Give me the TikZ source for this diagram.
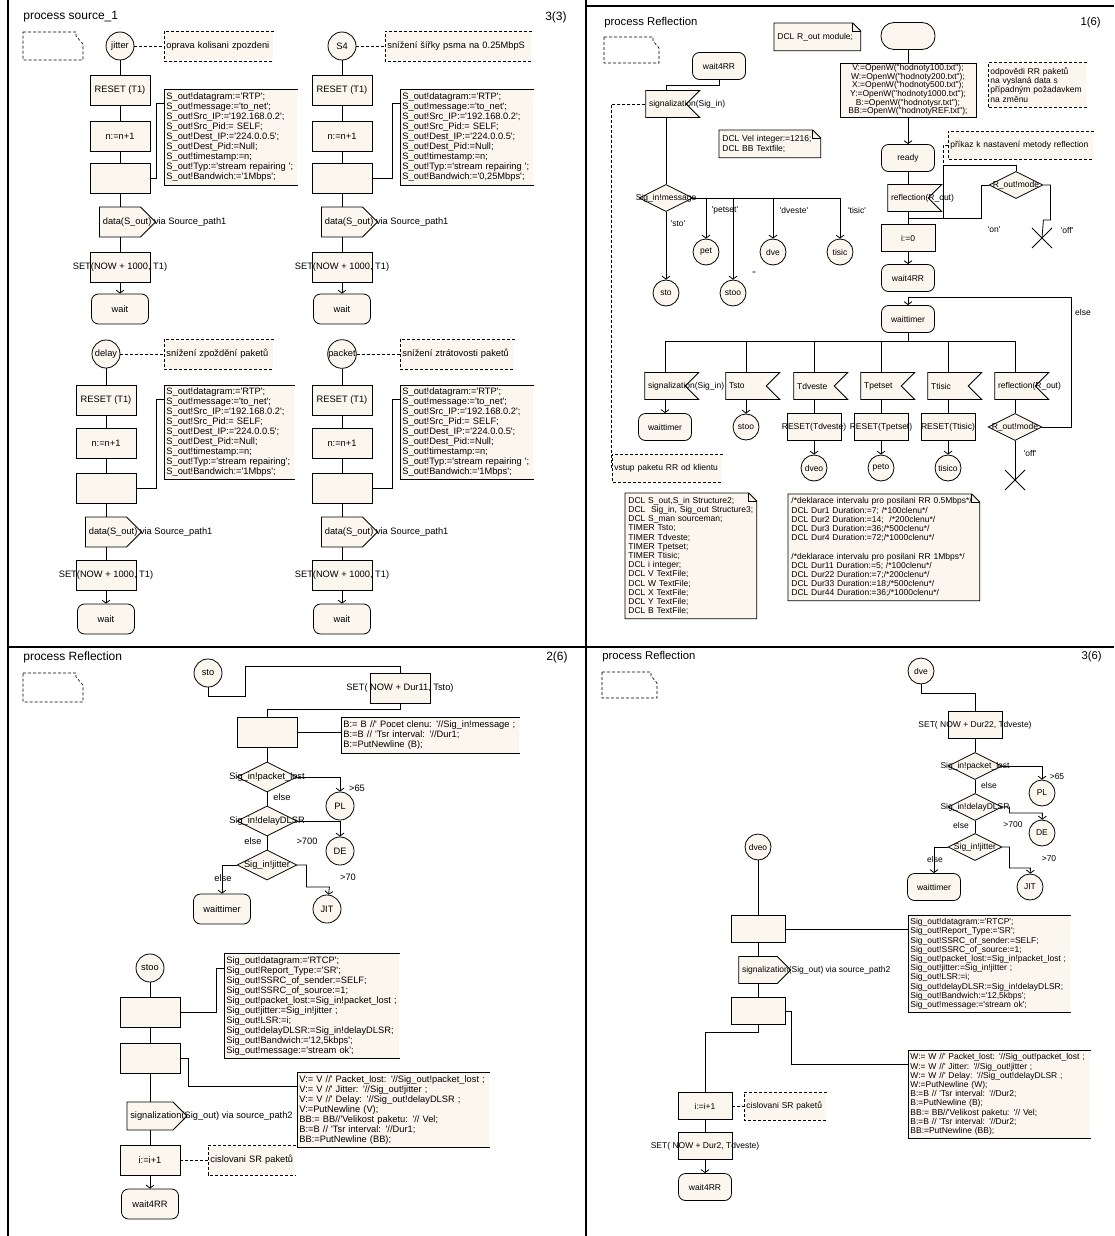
\documentclass[tikz,border=0pt]{standalone}
\usepackage{fontspec}
\newfontfamily\sdlfont{Liberation Sans}
\usetikzlibrary{shapes.geometric,shapes.symbols,arrows.meta}
\definecolor{boxfill}{RGB}{251,246,238}

\begin{document}
\begin{tikzpicture}[
    x=1pt, y=-1pt,
    font=\sdlfont\fontsize{9.3}{10}\selectfont,
    line width=0.8pt,
    symbol/.style={draw, fill=boxfill, inner sep=0pt},
    task/.style={symbol, rectangle, minimum width=60pt, minimum height=30pt},
    state/.style={symbol, rectangle, rounded corners=7pt, minimum width=57pt, minimum height=30pt},
    startsym/.style={symbol, rectangle, rounded corners=13pt, minimum width=54pt, minimum height=27pt},
    conn/.style={symbol, circle, minimum size=28pt},
    decision/.style={symbol, diamond, minimum width=60pt, minimum height=30pt},
    outsig/.style={symbol, signal, signal to=east, minimum width=56pt, minimum height=30pt},
    insig/.style={symbol, signal, signal to=nowhere, signal from=east, minimum width=54pt, minimum height=27pt},
    code/.style={fill=boxfill, anchor=north west, align=left, inner xsep=2pt, inner ysep=0pt},
    cmt/.style={fill=boxfill, anchor=west, align=left, inner xsep=2pt, minimum height=29pt},
    note/.style={fill=boxfill, anchor=north west, align=left, inner xsep=3pt},
    lbl/.style={inner sep=1pt},
    title/.style={inner sep=0pt, font=\sdlfont\fontsize{12}{14}\selectfont},
    flow/.style={-{Straight Barb[length=3pt,width=8pt]}},
    cline/.style={line width=0.6pt, dash pattern=on 3pt off 2pt},
    page/.style={line width=0.6pt, dash pattern=on 3pt off 2pt},
    frame/.style={line width=2pt},
    small/.style={
        font=\sdlfont\fontsize{8.5}{9.2}\selectfont,
        title/.append style={font=\sdlfont\fontsize{11.3}{13}\selectfont},
        task/.append style={minimum width=54pt, minimum height=27pt},
        state/.append style={minimum width=53pt, minimum height=27pt},
        conn/.append style={minimum size=26pt},
        decision/.append style={minimum width=54pt, minimum height=27pt},
        outsig/.append style={minimum width=52pt, minimum height=27pt},
        cmt/.append style={minimum height=27pt}}
]
\useasboundingbox (0,0) rectangle (1114,1236);

% panel frames
\draw[frame] (8,0) -- (8,1236);
\draw[frame] (586,0) -- (586,1236);
\draw[frame] (8,647) -- (1114,647);
\draw[frame] (586,6) -- (1114,6);

% ---------------- process source_1, page 3(3)
\node[title, anchor=west] (ttl1) at (23,17) {process source\_1};
\node[title, anchor=east] (pg1) at (567,17) {3(3)};
\draw[page] (23,32) -- ++(53,0) -- ++(0,4) -- ++(7,8) -- ++(0,16) -- ++(-60,0) -- cycle;

% jitter
\node[conn] (jitter) at (120,46) {jitter};
\node[cmt, text width=105pt] (cjit) at (164,46) {oprava kolisani zpozdeni};
\node[task] (rstA) at (120,90) {RESET (T1)};
\node[task] (incA) at (120,136) {n:=n+1};
\node[task] (tskA) at (120,178) {};
\node[code, text width=129pt, minimum height=96pt] (codeA) at (164,89) {S\_out!datagram:='RTP';\\S\_out!message:='to\_net';\\S\_out!Src\_IP:='192.168.0.2';\\S\_out!Src\_Pid:= SELF;\\S\_out!Dest\_IP:='224.0.0.5';\\S\_out!Dest\_Pid:=Null;\\S\_out!timestamp:=n;\\S\_out!Typ:='stream repairing ';\\S\_out!Bandwich:='1Mbps';};
\node[outsig, label={[anchor=west]west:{data(S\_out) via Source\_path1}}] (outA) at (120,222) {};
\node[task] (setA) at (120,267) {\makebox[0pt]{SET(NOW + 1000, T1)}};
\node[state] (waitA) at (120,309) {wait};

\draw[cline] (jitter) -- (cjit);
\draw[cline] (cjit.north east) -- (cjit.north west) -- (cjit.south west) -- (cjit.south east);
\draw (jitter) -- (rstA) -- (incA) -- (tskA) -- (outA) -- (setA);
\draw[flow] (setA) -- (waitA);
\draw (tskA.east) -- ++(6,0) |- ([yshift=-14pt]codeA.north west);
\draw (codeA.north east) -- (codeA.north west) -- (codeA.south west) -- (codeA.south east);

% S4
\node[conn] (s4) at (342,46) {S4};
\node[cmt, text width=142pt] (cs4) at (385,46) {snížení šířky psma na 0.25MbpS};
\node[task] (rstB) at (342,90) {RESET (T1)};
\node[task] (incB) at (342,136) {n:=n+1};
\node[task] (tskB) at (342,178) {};
\node[code, text width=129pt, minimum height=96pt] (codeB) at (400,89) {S\_out!datagram:='RTP';\\S\_out!message:='to\_net';\\S\_out!Src\_IP:='192.168.0.2';\\S\_out!Src\_Pid:= SELF;\\S\_out!Dest\_IP:='224.0.0.5';\\S\_out!Dest\_Pid:=Null;\\S\_out!timestamp:=n;\\S\_out!Typ:='stream repairing ';\\S\_out!Bandwich:='0,25Mbps';};
\node[outsig, label={[anchor=west]west:{data(S\_out) via Source\_path1}}] (outB) at (342,222) {};
\node[task] (setB) at (342,267) {\makebox[0pt]{SET(NOW + 1000, T1)}};
\node[state] (waitB) at (342,309) {wait};

\draw[cline] (s4) -- (cs4);
\draw[cline] (cs4.north east) -- (cs4.north west) -- (cs4.south west) -- (cs4.south east);
\draw (s4) -- (rstB) -- (incB) -- (tskB) -- (outB) -- (setB);
\draw[flow] (setB) -- (waitB);
\draw (tskB.east) -- ++(20,0) |- ([yshift=-14pt]codeB.north west);
\draw (codeB.north east) -- (codeB.north west) -- (codeB.south west) -- (codeB.south east);

% delay
\node[conn] (delay) at (106,354) {delay};
\node[cmt, text width=105pt] (cdel) at (164,354) {snížení zpoždění paketů};
\node[task] (rstC) at (106,400) {RESET (T1)};
\node[task] (incC) at (106,443) {n:=n+1};
\node[task] (tskC) at (106,488) {};
\node[code, text width=126pt, minimum height=94pt] (codeC) at (164,385) {S\_out!datagram:='RTP';\\S\_out!message:='to\_net';\\S\_out!Src\_IP:='192.168.0.2';\\S\_out!Src\_Pid:= SELF;\\S\_out!Dest\_IP:='224.0.0.5';\\S\_out!Dest\_Pid:=Null;\\S\_out!timestamp:=n;\\S\_out!Typ:='stream repairing';\\S\_out!Bandwich:='1Mbps';};
\node[outsig, label={[anchor=west]west:{data(S\_out) via Source\_path1}}] (outC) at (106,532) {};
\node[task] (setC) at (106,575) {\makebox[0pt]{SET(NOW + 1000, T1)}};
\node[state] (waitC) at (106,619) {wait};

\draw[cline] (delay) -- (cdel);
\draw[cline] (cdel.north east) -- (cdel.north west) -- (cdel.south west) -- (cdel.south east);
\draw (delay) -- (rstC) -- (incC) -- (tskC) -- (outC) -- (setC);
\draw[flow] (setC) -- (waitC);
\draw (tskC.east) -- ++(20,0) |- ([yshift=-14pt]codeC.north west);
\draw (codeC.north east) -- (codeC.north west) -- (codeC.south west) -- (codeC.south east);

% packet
\node[conn] (packet) at (342,354) {packet};
\node[cmt, text width=110pt] (cpkt) at (400,354) {snížení ztrátovosti paketů};
\node[task] (rstD) at (342,400) {RESET (T1)};
\node[task] (incD) at (342,443) {n:=n+1};
\node[task] (tskD) at (342,488) {};
\node[code, text width=129pt, minimum height=94pt] (codeD) at (400,385) {S\_out!datagram:='RTP';\\S\_out!message:='to\_net';\\S\_out!Src\_IP:='192.168.0.2';\\S\_out!Src\_Pid:= SELF;\\S\_out!Dest\_IP:='224.0.0.5';\\S\_out!Dest\_Pid:=Null;\\S\_out!timestamp:=n;\\S\_out!Typ:='stream repairing ';\\S\_out!Bandwich:='1Mbps';};
\node[outsig, label={[anchor=west]west:{data(S\_out) via Source\_path1}}] (outD) at (342,532) {};
\node[task] (setD) at (342,575) {\makebox[0pt]{SET(NOW + 1000, T1)}};
\node[state] (waitD) at (342,619) {wait};

\draw[cline] (packet) -- (cpkt);
\draw[cline] (cpkt.north east) -- (cpkt.north west) -- (cpkt.south west) -- (cpkt.south east);
\draw (packet) -- (rstD) -- (incD) -- (tskD) -- (outD) -- (setD);
\draw[flow] (setD) -- (waitD);
\draw (tskD.east) -- ++(20,0) |- ([yshift=-14pt]codeD.north west);
\draw (codeD.north east) -- (codeD.north west) -- (codeD.south west) -- (codeD.south east);

% ---------------- process Reflection, page 1(6)
\begin{scope}[small]
\node[title, anchor=west] (ttl2) at (604,23) {process Reflection};
\node[title, anchor=east] (pg2) at (1101,23) {1(6)};
\draw[page] (604,37) -- ++(49,0) -- ++(0,4) -- ++(6,7) -- ++(0,15) -- ++(-55,0) -- cycle;

% state wait4RR
\node[state] (w4rrA) at (719,66) {wait4RR};
\node[insig, label={[anchor=west]west:{signalization(Sig\_in)}}] (sigin) at (666,104) {};
\node[decision] (dmsg) at (666,198) {\makebox[0pt]{Sig\_in!message}};
\node[conn] (sto) at (666,293) {sto};
\node[conn] (pet) at (706,252) {pet};
\node[conn] (stoo) at (733,293) {stoo};
\node[conn] (dve) at (773,252) {dve};
\node[conn] (tisic) at (840,252) {tisic};
\node[lbl] (lsto) at (678,224) {'sto'};
\node[lbl] (lpet) at (725,210) {'petset'};
\node[lbl] (lstoo) at (754,275) {''};
\node[lbl] (ldve) at (794,210) {'dveste'};
\node[lbl] (ltis) at (857,210) {'tisic'};
\node[cmt, text width=106pt] (cin) at (612,468) {vstup paketu RR od klientu};

\draw (w4rrA.south) -- ++(0,6) -| (sigin.north);
\draw (sigin) -- (dmsg);
\draw[flow] (dmsg) -- (sto);
\draw[flow] (dmsg.east) -| (pet);
\draw[flow] (dmsg.east) -| (stoo);
\draw[flow] (dmsg.east) -| (dve);
\draw[flow] (dmsg.east) -| (tisic);
\draw[cline] (sigin.west) -- ++(-34,0) |- (cin.west);
\draw[cline] (cin.north east) -- (cin.north west) -- (cin.south west) -- (cin.south east);

% declarations
\node[note, text width=80pt, minimum height=27pt] (dclrout) at (774,23) {DCL R\_out module;};
\node[note, text width=95pt, minimum height=27pt] (dclvel) at (719,130) {DCL Vel integer:=1216;\\DCL BB Textfile;};
\draw (dclrout.north west) -- ([xshift=-8pt]dclrout.north east) -- ([yshift=-8pt]dclrout.north east) -- (dclrout.south east) -- (dclrout.south west) -- cycle;
\draw ([xshift=-8pt]dclrout.north east) |- ([yshift=-8pt]dclrout.north east);
\draw (dclvel.north west) -- ([xshift=-8pt]dclvel.north east) -- ([yshift=-8pt]dclvel.north east) -- (dclvel.south east) -- (dclvel.south west) -- cycle;
\draw ([xshift=-8pt]dclvel.north east) |- ([yshift=-8pt]dclvel.north east);

% start transition
\node[startsym] (strt) at (908,36) {};
\node[task, minimum width=136pt, minimum height=54pt, align=center, font=\sdlfont\fontsize{8.5}{8.7}\selectfont] (opn) at (908,90) {V:=OpenW("hodnoty100.txt");\\W:=OpenW("hodnoty200.txt");\\X:=OpenW("hodnoty500.txt");\\Y:=OpenW("hodnoty1000.txt");\\B:=OpenW("hodnotysr.txt");\\BB:=OpenW("hodnotyREF.txt");};
\node[cmt, text width=94pt, minimum height=44pt] (codp) at (988,85) {odpovědi RR paketů\\na vyslaná data s\\případným požadavkem\\na změnu};
\node[state] (ready) at (908,158) {ready};
\node[cmt, text width=141pt] (crefl) at (948,145) {příkaz k nastavení metody reflection};
\node[insig, label={[anchor=west]west:{reflection(R\_out)}}] (refl) at (908,198) {};
\node[decision] (modeA) at (1016,185) {\makebox[0pt]{R\_out!mode}};
\coordinate (kn) at (943,165);
\coordinate (stopA) at (1042,238);
\node[task] (izero) at (908,238) {i:=0};
\node[state] (w4rrB) at (908,278) {wait4RR};
\node[lbl] (lon) at (994,230) {'on'};
\node[lbl] (loff) at (1067,230) {'off'};

\draw[cline] (codp.north east) -- (codp.north west) -- (codp.south west) -- (codp.south east);
\draw[cline] (crefl.north east) -- (crefl.north west) -- (crefl.south west) -- (crefl.south east);
\draw (strt) -- (opn);
\draw[flow] (opn) -- (ready);
\draw (ready) -- (refl);
\draw (refl.south) -- ++(0,6) -| (kn) -| (modeA.north);
\draw (modeA.west) -- ++(-7,0) |- ([yshift=-6pt]refl.south) -- (izero);
\draw (modeA.east) -- ++(7,0) |- ++(-7,35) -- (stopA);
\draw (stopA) ++(-10,-10) -- ++(20,20) (stopA) ++(-10,10) -- ++(20,-20);
\draw[cline] (crefl.west) -| (kn);
\draw[flow] (izero) -- (w4rrB);

% state waittimer
\node[state] (wt) at (908,319) {waittimer};
\node[insig, label={[anchor=west]west:{signalization(Sig\_in)}}] (sigin2) at (665,386) {};
\node[insig, label={[anchor=west]west:{Tsto}}] (tsto) at (746,386) {};
\node[insig, label={[anchor=west]west:{Tdveste}}] (tdve) at (814,386) {};
\node[insig, label={[anchor=west]west:{Tpetset}}] (tpet) at (881,386) {};
\node[insig, label={[anchor=west]west:{Ttisic}}] (ttis) at (948,386) {};
\node[insig, label={[anchor=west]west:{reflection(R\_out)}}] (refl2) at (1015,386) {};
\node[state] (wt2) at (665,427) {waittimer};
\node[conn] (stoo2) at (746,427) {stoo};
\node[task] (rsdve) at (814,427) {\makebox[0pt]{RESET(Tdveste)}};
\node[task] (rspet) at (881,427) {\makebox[0pt]{RESET(Tpetset)}};
\node[task] (rstis) at (948,427) {\makebox[0pt]{RESET(Ttisic)}};
\node[decision] (modeB) at (1015,427) {\makebox[0pt]{R\_out!mode}};
\node[conn] (dveo) at (814,468) {dveo};
\node[conn] (peto) at (881,468) {peto};
\node[conn] (tisico) at (948,468) {tisico};
\coordinate (stopB) at (1015,480);
\node[lbl] (loff2) at (1030,453) {'off'};
\node[lbl] (lelse) at (1083,312) {else};

\draw (wt.south) -- ++(0,8) -| (sigin2.north);
\draw (wt.south) -- ++(0,8) -| (tsto.north);
\draw (wt.south) -- ++(0,8) -| (tdve.north);
\draw (wt.south) -- ++(0,8) -| (tpet.north);
\draw (wt.south) -- ++(0,8) -| (ttis.north);
\draw (wt.south) -- ++(0,8) -| (refl2.north);
\draw[flow] (sigin2) -- (wt2);
\draw[flow] (tsto) -- (stoo2);
\draw (tdve) -- (rsdve);
\draw (tpet) -- (rspet);
\draw (ttis) -- (rstis);
\draw (refl2) -- (modeB);
\draw[flow] (rsdve) -- (dveo);
\draw[flow] (rspet) -- (peto);
\draw[flow] (rstis) -- (tisico);
\draw (modeB) -- (stopB);
\draw (stopB) ++(-10,-10) -- ++(20,20) (stopB) ++(-10,10) -- ++(20,-20);
\draw[flow] (modeB.east) -- ++(29,0) |- ([yshift=8pt]wt.north) -- (wt);

% declarations
\node[note, text width=125pt, minimum height=125pt] (dcl1) at (625,493) {DCL S\_out,S\_in Structure2;\\DCL\ \ Sig\_in, Sig\_out Structure3;\\DCL S\_man sourceman;\\TIMER Tsto;\\TIMER Tdveste;\\TIMER Tpetset;\\TIMER Ttisic;\\DCL i integer;\\DCL V TextFile;\\DCL W TextFile;\\DCL X TextFile;\\DCL Y TextFile;\\DCL B TextFile;};
\node[note, text width=185pt, minimum height=105pt] (dcl2) at (788,494) {/*deklarace intervalu pro posilani RR 0.5Mbps*/\\DCL Dur1 Duration:=7; /*100clenu*/\\DCL Dur2 Duration:=14;\ \ /*200clenu*/\\DCL Dur3 Duration:=36;/*500clenu*/\\DCL Dur4 Duration:=72;/*1000clenu*/\\[9.2pt]/*deklarace intervalu pro posilani RR 1Mbps*/\\DCL Dur11 Duration:=5; /*100clenu*/\\DCL Dur22 Duration:=7;/*200clenu*/\\DCL Dur33 Duration:=18;/*500clenu*/\\DCL Dur44 Duration:=36;/*1000clenu*/};
\draw (dcl1.north west) -- ([xshift=-8pt]dcl1.north east) -- ([yshift=-8pt]dcl1.north east) -- (dcl1.south east) -- (dcl1.south west) -- cycle;
\draw ([xshift=-8pt]dcl1.north east) |- ([yshift=-8pt]dcl1.north east);
\draw (dcl2.north west) -- ([xshift=-8pt]dcl2.north east) -- ([yshift=-8pt]dcl2.north east) -- (dcl2.south east) -- (dcl2.south west) -- cycle;
\draw ([xshift=-8pt]dcl2.north east) |- ([yshift=-8pt]dcl2.north east);
\end{scope}

% ---------------- process Reflection, page 2(6)
\node[title, anchor=west] (ttl3) at (23,657) {process Reflection};
\node[title, anchor=east] (pg3) at (568,657) {2(6)};
\draw[page] (23,673) -- ++(53,0) -- ++(0,4) -- ++(7,8) -- ++(0,17) -- ++(-60,0) -- cycle;

% connector sto
\node[conn] (sto2) at (208,673) {sto};
\node[task] (setS) at (400,688) {\makebox[0pt]{SET( NOW + Dur11, Tsto)}};
\node[task] (tkE) at (267,732) {};
\node[code, text width=174pt, minimum height=36pt] (codeE) at (341,717) {B:= B //' Pocet clenu: '//Sig\_in!message ;\\B:=B // 'Tsr interval: '//Dur1;\\B:=PutNewline (B);};
\node[decision] (dlost) at (267,777) {\makebox[0pt]{Sig\_in!packet\_lost}};
\node[conn] (pl) at (340,806) {PL};
\node[decision] (ddlsr) at (267,821) {\makebox[0pt]{Sig\_in!delayDLSR}};
\node[conn] (de) at (340,851) {DE};
\node[decision] (djit) at (267,865) {\makebox[0pt]{Sig\_in!jitter}};
\node[state] (wt3) at (222,909) {waittimer};
\node[conn] (jit) at (327,909) {JIT};
\node[lbl] (l65) at (357,788) {>65};
\node[lbl] (lels1) at (282,797) {else};
\node[lbl] (l700) at (307,841) {>700};
\node[lbl] (lels2) at (253,841) {else};
\node[lbl] (lels3) at (223,878) {else};
\node[lbl] (l70) at (348,877) {>70};

\draw (sto2.south) -- ++(0,9) -| ++(37,-30) -| (setS.north);
\draw (setS.south) -- ++(0,6) -| (tkE.north);
\draw (tkE.east) -- (tkE.east -| codeE.west);
\draw (codeE.north east) -- (codeE.north west) -- (codeE.south west) -- (codeE.south east);
\draw (tkE) -- (dlost) -- (ddlsr) -- (djit);
\draw[flow] (dlost.east) -| (pl);
\draw[flow] (ddlsr.east) -| (de);
\draw[flow] (djit.west) -| (wt3);
\draw[flow] (djit.east) -- ++(9,0) |- ++(23,22) -- (jit);

% connector stoo
\node[conn] (stoo3) at (150,968) {stoo};
\node[task] (tkF) at (150,1012) {};
\node[code, text width=171pt, minimum height=105pt] (codeF) at (224,953) {Sig\_out!datagram:='RTCP';\\Sig\_out!Report\_Type:='SR';\\Sig\_out!SSRC\_of\_sender:=SELF;\\Sig\_out!SSRC\_of\_source:=1;\\Sig\_out!packet\_lost:=Sig\_in!packet\_lost ;\\Sig\_out!jitter:=Sig\_in!jitter ;\\Sig\_out!LSR:=i;\\Sig\_out!delayDLSR:=Sig\_in!delayDLSR;\\Sig\_out!Bandwich:='12,5kbps';\\Sig\_out!message:='stream ok';};
\node[task] (tkG) at (150,1058) {};
\node[code, text width=188pt, minimum height=75pt] (codeG) at (297,1072) {V:= V //' Packet\_lost: '//Sig\_out!packet\_lost ;\\V:= V //' Jitter: '//Sig\_out!jitter ;\\V:= V //' Delay: '//Sig\_out!delayDLSR ;\\V:=PutNewline (V);\\BB:= BB//'Velikost paketu: '// Vel;\\B:=B // 'Tsr interval: '//Dur1;\\BB:=PutNewline (BB);};
\node[outsig, minimum width=60pt, minimum height=28pt, label={[anchor=west]west:{signalization(Sig\_out) via source\_path2}}] (outF) at (150,1116) {};
\node[task] (incF) at (150,1160) {i:=i+1};
\node[cmt, text width=83pt] (csr) at (208,1160) {cislovani SR paketů};
\node[state] (w4rrC) at (150,1204) {wait4RR};

\draw (stoo3) -- (tkF) -- (tkG) -- (outF) -- (incF);
\draw[flow] (incF) -- (w4rrC);
\draw (tkF.east) -- ++(36,0) |- ([yshift=-15pt]codeF.north west);
\draw (codeF.north east) -- (codeF.north west) -- (codeF.south west) -- (codeF.south east);
\draw (tkG.east) -- ++(8,0) |- ([yshift=-14pt]codeG.north west);
\draw (codeG.north east) -- (codeG.north west) -- (codeG.south west) -- (codeG.south east);
\draw[cline] (incF) -- (csr);
\draw[cline] (csr.north east) -- (csr.north west) -- (csr.south west) -- (csr.south east);

% ---------------- process Reflection, page 3(6)
\begin{scope}[small]
\node[title, anchor=west] (ttl4) at (602,657) {process Reflection};
\node[title, anchor=east] (pg4) at (1102,657) {3(6)};
\draw[page] (602,672) -- ++(49,0) -- ++(0,4) -- ++(6,7) -- ++(0,15) -- ++(-55,0) -- cycle;

% connector dve
\node[conn] (dve2) at (921,671) {dve};
\node[task] (setT) at (975,725) {\makebox[0pt]{SET( NOW + Dur22, Tdveste)}};
\node[decision] (dlost2) at (975,766) {\makebox[0pt]{Sig\_in!packet\_lost}};
\node[conn] (pl2) at (1042,793) {PL};
\node[decision] (ddlsr2) at (975,807) {\makebox[0pt]{Sig\_in!delayDLSR}};
\node[conn] (de2) at (1042,833) {DE};
\node[decision] (djit2) at (975,847) {\makebox[0pt]{Sig\_in!jitter}};
\node[state] (wt4) at (934,887) {waittimer};
\node[conn] (jit2) at (1030,887) {JIT};
\node[lbl] (l65b) at (1057,777) {>65};
\node[lbl] (lels4) at (989,785) {else};
\node[lbl] (l700b) at (1013,825) {>700};
\node[lbl] (lels5) at (961,825) {else};
\node[lbl] (lels6) at (935,859) {else};
\node[lbl] (l70b) at (1049,859) {>70};

\draw (dve2.south) -- ++(0,9) -| (setT.north);
\draw (setT) -- (dlost2) -- (ddlsr2) -- (djit2);
\draw[flow] (dlost2.east) -| (pl2);
\draw[flow] (ddlsr2.east) -- ++(7,0) |- ++(33,6) -- (de2);
\draw[flow] (djit2.west) -| (wt4);
\draw[flow] (djit2.east) -- ++(7,0) |- ++(21,21) -- (jit2);

% connector dveo
\node[conn] (dveo2) at (758,847) {dveo};
\node[task] (tkH) at (758,929) {};
\node[code, text width=158pt, minimum height=97pt] (codeH) at (908,915) {Sig\_out!datagram:='RTCP';\\Sig\_out!Report\_Type:='SR';\\Sig\_out!SSRC\_of\_sender:=SELF;\\Sig\_out!SSRC\_of\_source:=1;\\Sig\_out!packet\_lost:=Sig\_in!packet\_lost ;\\Sig\_out!jitter:=Sig\_in!jitter ;\\Sig\_out!LSR:=i;\\Sig\_out!delayDLSR:=Sig\_in!delayDLSR;\\Sig\_out!Bandwich:='12,5kbps';\\Sig\_out!message:='stream ok';};
\node[outsig, label={[anchor=west]west:{signalization(Sig\_out) via source\_path2}}] (outH) at (758,970) {};
\node[task] (tkI) at (758,1011) {};
\node[code, text width=178pt, minimum height=88pt] (codeI) at (908,1050) {W:= W //' Packet\_lost: '//Sig\_out!packet\_lost ;\\W:= W //' Jitter: '//Sig\_out!jitter ;\\W:= W //' Delay: '//Sig\_out!delayDLSR ;\\W:=PutNewline (W);\\B:=B // 'Tsr interval: '//Dur2;\\B:=PutNewline (B);\\BB:= BB//'Velikost paketu: '// Vel;\\B:=B // 'Tsr interval: '//Dur2;\\BB:=PutNewline (BB);};
\node[task] (incH) at (705,1106) {i:=i+1};
\node[cmt, text width=78pt] (csr2) at (744,1106) {cislovani SR paketů};
\node[task] (setU) at (705,1146) {\makebox[0pt]{SET( NOW + Dur2, Tdveste)}};
\node[state] (w4rrD) at (705,1187) {wait4RR};

\draw (dveo2) -- (tkH) -- (outH) -- (tkI);
\draw (tkH.east) -- (tkH.east -| codeH.west);
\draw (codeH.north east) -- (codeH.north west) -- (codeH.south west) -- (codeH.south east);
\draw (tkI.east) -- ++(6,0) |- ([yshift=-14pt]codeI.north west);
\draw (codeI.north east) -- (codeI.north west) -- (codeI.south west) -- (codeI.south east);
\draw (tkI.south) -- ++(0,7) -| (incH.north);
\draw[cline] (incH) -- (csr2);
\draw[cline] (csr2.north east) -- (csr2.north west) -- (csr2.south west) -- (csr2.south east);
\draw (incH) -- (setU);
\draw[flow] (setU) -- (w4rrD);
\end{scope}

\end{tikzpicture}
\end{document}
